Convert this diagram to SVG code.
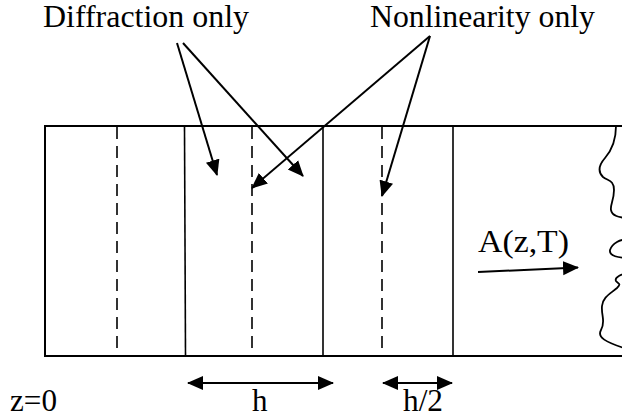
<svg xmlns="http://www.w3.org/2000/svg" width="622" height="418" viewBox="0 0 622 418">
<style>
  .lbl { font-family: 'Times New Roman', 'Liberation Serif', Times, serif; font-size: 31px; fill: #000; }
  .frame { fill: none; stroke: #000; stroke-width: 2; }
  .solid { stroke: #000; stroke-width: 1.6; fill: none; }
  .dash { stroke: #000; stroke-width: 1.6; stroke-dasharray: 12 7; fill: none; }
  .arrow { stroke: #000; stroke-width: 2; fill: none; }
  .wave { stroke: #000; stroke-width: 1.8; fill: none; }
</style>
<defs>
  <marker id="ah" markerUnits="userSpaceOnUse" markerWidth="16" markerHeight="16" viewBox="0 0 16 16" refX="15" refY="8" orient="auto-start-reverse">
    <path d="M0,1 L16,8 L0,15 Z" fill="#000"/>
  </marker>
</defs>
<rect width="622" height="418" fill="#fff"/>
<g id="waveguide">
  <path class="frame" d="M632,126 H45 V356 H632"/>
  <line class="dash" x1="117" y1="127" x2="117" y2="355"/>
  <line class="solid" x1="184.5" y1="127" x2="185.5" y2="355"/>
  <line class="dash" x1="252" y1="127" x2="252" y2="355"/>
  <line class="solid" x1="323" y1="127" x2="323" y2="355"/>
  <line class="dash" x1="382" y1="127" x2="382" y2="355"/>
  <line class="solid" x1="453" y1="127" x2="453" y2="355"/>
  <path class="wave" d="M616,126 C616,140 612,150 605,158 C598,166 598,172 603,177 C608,181 614,180 614,190 C614,200 610,205 611,210 C612,216 618,217 630,219 M630,240 C620,238 612,244 610,250 C609,256 618,258 630,258 M630,272 C622,274 614,277 616,281 C618,284 622,283 617,288 C610,294 603,297 602,306 C601,315 606,322 601,330 C597,337 604,342 630,350"/>
</g>
<g id="labels">
  <text class="lbl" x="43" y="27" textLength="206" lengthAdjust="spacingAndGlyphs">Diffraction only</text>
  <text class="lbl" x="370" y="27" textLength="225" lengthAdjust="spacingAndGlyphs">Nonlinearity only</text>
  <text class="lbl" x="478" y="252" textLength="91" lengthAdjust="spacingAndGlyphs">A(z,T)</text>
  <text class="lbl" x="10" y="411" textLength="47" lengthAdjust="spacingAndGlyphs">z=0</text>
  <text class="lbl" x="252" y="411">h</text>
  <text class="lbl" x="403" y="411" textLength="40" lengthAdjust="spacingAndGlyphs">h/2</text>
</g>
<g id="connectors">
  <line class="arrow" x1="177" y1="43" x2="217" y2="175" marker-end="url(#ah)"/>
  <line class="arrow" x1="183" y1="43" x2="303" y2="176" marker-end="url(#ah)"/>
  <line class="arrow" x1="430" y1="36" x2="252" y2="188" marker-end="url(#ah)"/>
  <line class="arrow" x1="430" y1="36" x2="382" y2="196" marker-end="url(#ah)"/>
  <line class="arrow" x1="478" y1="272" x2="578" y2="267.5" marker-end="url(#ah)"/>
  <line class="arrow" x1="188" y1="383" x2="333" y2="383" marker-start="url(#ah)" marker-end="url(#ah)"/>
  <line class="arrow" x1="383" y1="383" x2="452" y2="383" marker-start="url(#ah)" marker-end="url(#ah)"/>
</g>
</svg>
